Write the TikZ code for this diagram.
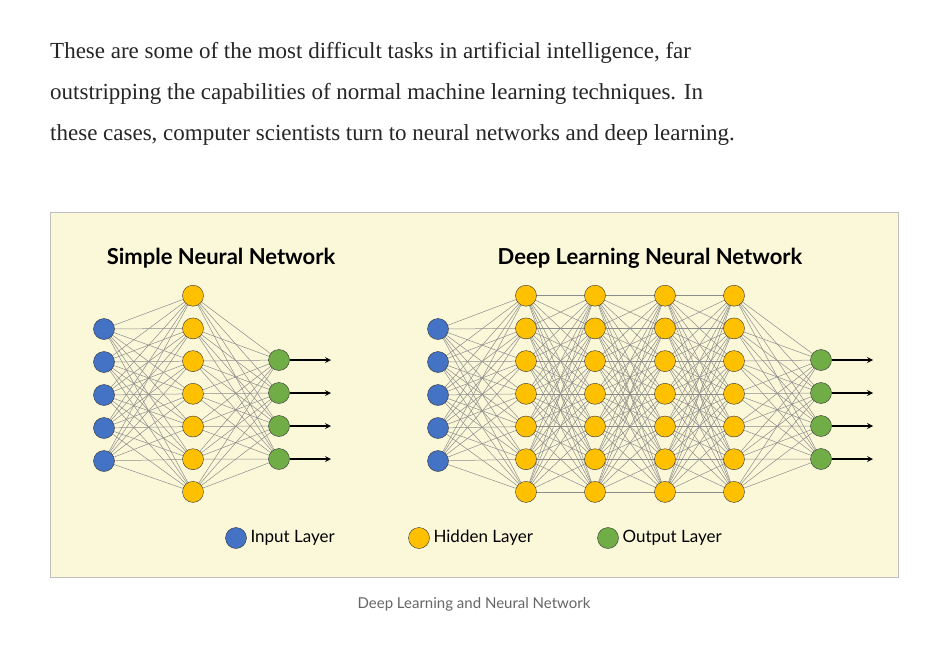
\documentclass[tikz,border=0pt]{standalone}
\usepackage{fontspec}
\setmainfont{Liberation Serif}
\newfontfamily\lato{Lato}
\definecolor{cblue}{RGB}{68,114,196}
\definecolor{cyellow}{RGB}{255,192,0}
\definecolor{cgreen}{RGB}{112,173,71}
\definecolor{cpanel}{RGB}{251,248,218}
\definecolor{cedge}{RGB}{140,140,140}

\begin{document}
\begin{tikzpicture}[x=1pt,y=-1pt,
    neuron/.style={circle, draw=black!80, thin, minimum size=21pt, inner sep=0pt},
    link/.style={cedge, line width=0.5pt},
    title/.style={font=\lato\bfseries\fontsize{22}{26}\selectfont},
    legend/.style={font=\lato\fontsize{17}{20}\selectfont, anchor=west}]
  \useasboundingbox (0,0) rectangle (940,645);
  \fill[white] (0,0) rectangle (940,645);

  % paragraph
  \foreach \t [count=\i] in {{These are some of the most difficult tasks in artificial intelligence, far},
      {outstripping the capabilities of normal machine learning techniques. In},
      {these cases, computer scientists turn to neural networks and deep learning.}}
    \node[anchor=base west, inner sep=0pt, font=\fontsize{23}{28}\selectfont, text=black!85] (line\i) at (50,{17+\i*41}) {\t};

  % panel
  \node[draw=black!25, fill=cpanel, minimum width=848pt, minimum height=365pt, anchor=north west] (panel) at (50,212) {};
  \node[title] (simple) at (221,258) {Simple Neural Network};
  \node[title] (deep) at (650,258) {Deep Learning Neural Network};

  % simple network
  \foreach \i in {1,...,5} \coordinate (si\i) at (104,{296+\i*33});
  \foreach \i in {1,...,7} \coordinate (sh\i) at (193,{263+\i*32.7});
  \foreach \i in {1,...,4} \coordinate (so\i) at (279,{327+\i*33});
  \foreach \i in {1,...,5} \foreach \j in {1,...,7} \draw[link] (si\i) -- (sh\j);
  \foreach \i in {1,...,7} \foreach \j in {1,...,4} \draw[link] (sh\i) -- (so\j);
  \foreach \i in {1,...,5} \node[neuron, fill=cblue] at (si\i) {};
  \foreach \i in {1,...,7} \node[neuron, fill=cyellow] at (sh\i) {};
  \foreach \i in {1,...,4} {
    \node[neuron, fill=cgreen] (son\i) at (so\i) {};
    \coordinate (se\i) at (331,{327+\i*33});
    \draw[-stealth, line width=1.6pt] (son\i) -- (se\i);
  }

  % deep network
  \foreach \i in {1,...,5} \coordinate (di\i) at (438,{296+\i*33});
  \foreach \c/\x in {1/526,2/595,3/665,4/734}
    \foreach \i in {1,...,7} \coordinate (dh\c-\i) at (\x,{263+\i*32.7});
  \foreach \i in {1,...,4} \coordinate (do\i) at (821,{327+\i*33});
  \foreach \i in {1,...,5} \foreach \j in {1,...,7} \draw[link] (di\i) -- (dh1-\j);
  \foreach \c/\n in {1/2,2/3,3/4}
    \foreach \i in {1,...,7} \foreach \j in {1,...,7} \draw[link] (dh\c-\i) -- (dh\n-\j);
  \foreach \i in {1,...,7} \foreach \j in {1,...,4} \draw[link] (dh4-\i) -- (do\j);
  \foreach \i in {1,...,5} \node[neuron, fill=cblue] at (di\i) {};
  \foreach \c in {1,...,4} \foreach \i in {1,...,7} \node[neuron, fill=cyellow] at (dh\c-\i) {};
  \foreach \i in {1,...,4} {
    \node[neuron, fill=cgreen] (don\i) at (do\i) {};
    \coordinate (de\i) at (873,{327+\i*33});
    \draw[-stealth, line width=1.6pt] (don\i) -- (de\i);
  }

  % legend
  \node[neuron, fill=cblue] (kin) at (236,538) {};
  \node[legend] at (247,538) {Input Layer};
  \node[neuron, fill=cyellow] (khid) at (419,538) {};
  \node[legend] at (430,538) {Hidden Layer};
  \node[neuron, fill=cgreen] (kout) at (608,538) {};
  \node[legend] at (619,538) {Output Layer};

  % caption
  \node[font=\lato\fontsize{15}{18}\selectfont, text=black!60] (caption) at (474,604) {Deep Learning and Neural Network};
\end{tikzpicture}
\end{document}
